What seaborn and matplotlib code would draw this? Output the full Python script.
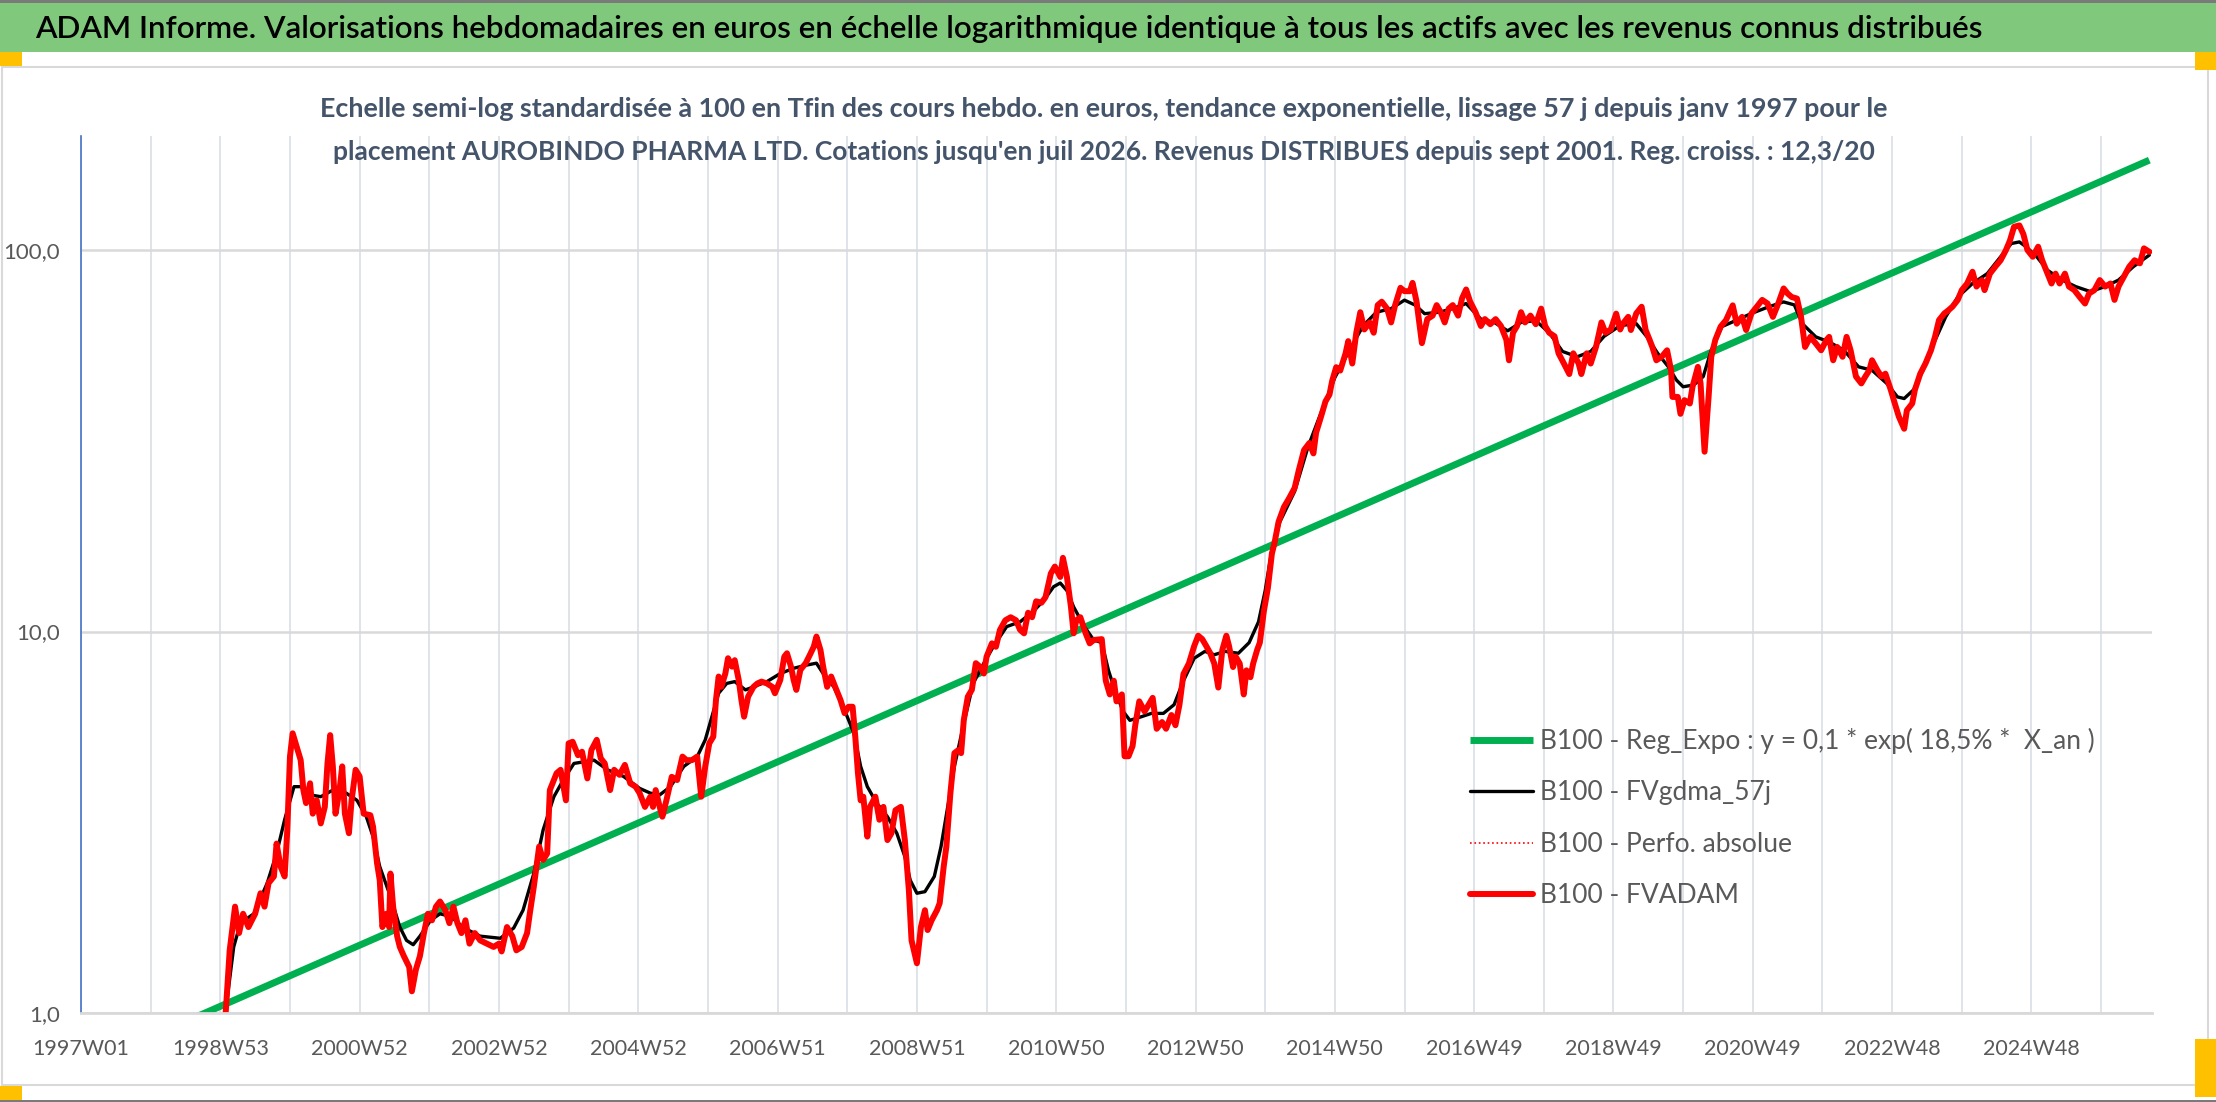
import matplotlib
matplotlib.use("Agg")
import matplotlib.pyplot as plt
from matplotlib.patches import Rectangle
import seaborn as sns

# ---- data (x = week index since 1997W01) ----
week_labels = ["1997W01", "1998W53", "2000W52", "2002W52", "2004W52", "2006W51", "2008W51",
               "2010W50", "2012W50", "2014W50", "2016W49", "2018W49", "2020W49", "2022W48", "2024W48"]
n_weeks = 1547

reg_weeks = [0, 1544]
reg_vals = [0.72, 172.0]

red_weeks = [108, 111, 115, 118, 121, 125, 130, 134, 137, 140, 144, 146, 149, 152, 154, 156, 158, 161, 164, 166,
             168, 171, 173, 176, 179, 182, 184, 186, 188, 190, 193, 195, 197, 200, 202, 205, 208, 211, 216, 218,
             221, 223, 225, 228, 230, 231, 233, 236, 238, 241, 245, 247, 250, 253, 256, 259, 262, 265, 268, 272,
             275, 278, 281, 284, 287, 290, 294, 298, 303, 308, 312, 314, 318, 322, 325, 329, 333, 335, 338, 340,
             342, 345, 348, 350, 353, 355, 358, 362, 364, 367, 371, 374, 378, 381, 385, 388, 391, 395, 398, 402,
             406, 410, 414, 417, 421, 425, 427, 429, 432, 434, 437, 441, 445, 449, 452, 456, 460, 463, 466, 469,
             472, 474, 476, 478, 481, 483, 486, 488, 491, 493, 495, 498, 502, 505, 508, 512, 516, 518, 522, 525,
             527, 530, 532, 534, 537, 541, 544, 547, 549, 552, 554, 557, 560, 563, 567, 570, 573, 576, 578, 580,
             582, 584, 587, 589, 593, 596, 599, 602, 605, 608, 612, 615, 618, 620, 624, 627, 630, 632, 635, 639,
             641, 644, 646, 649, 652, 655, 657, 659, 662, 665, 668, 671, 674, 676, 680, 683, 686, 690, 694, 698,
             701, 704, 707, 710, 713, 717, 720, 724, 727, 731, 733, 736, 739, 741, 743, 746, 750, 753, 756, 762,
             765, 768, 771, 773, 777, 779, 782, 785, 787, 790, 794, 797, 800, 803, 807, 810, 814, 817, 820, 823,
             827, 831, 834, 837, 840, 843, 846, 849, 852, 855, 857, 860, 862, 865, 868, 870, 873, 875, 878, 880,
             883, 886, 889, 891, 894, 898, 902, 906, 909, 913, 917, 920, 922, 926, 929, 932, 934, 937, 940, 944,
             946, 949, 952, 955, 958, 962, 965, 968, 971, 975, 978, 981, 985, 988, 992, 994, 997, 1001, 1005, 1009,
             1012, 1015, 1018, 1021, 1024, 1028, 1031, 1034, 1037, 1041, 1045, 1048, 1052, 1056, 1060, 1064, 1066,
             1069, 1072, 1075, 1078, 1082, 1086, 1090, 1093, 1096, 1100, 1103, 1107, 1111, 1114, 1118, 1120, 1124,
             1127, 1131, 1135, 1138, 1142, 1146, 1149, 1151, 1155, 1157, 1161, 1165, 1168, 1171, 1173, 1176, 1180,
             1184, 1187, 1188, 1192, 1194, 1197, 1201, 1203, 1207, 1209, 1212, 1215, 1217, 1220, 1224, 1228, 1233,
             1236, 1240, 1243, 1247, 1251, 1255, 1259, 1263, 1267, 1271, 1274, 1277, 1281, 1284, 1287, 1291, 1295,
             1299, 1303, 1305, 1308, 1311, 1315, 1318, 1321, 1325, 1329, 1332, 1335, 1337, 1341, 1344, 1347, 1351,
             1354, 1357, 1361, 1363, 1367, 1369, 1373, 1377, 1381, 1384, 1387, 1391, 1394, 1397, 1401, 1404, 1408,
             1412, 1415, 1419, 1421, 1425, 1429, 1433, 1437, 1440, 1443, 1447, 1450, 1453, 1457, 1461, 1464, 1467,
             1471, 1474, 1477, 1481, 1484, 1488, 1492, 1496, 1499, 1503, 1507, 1511, 1515, 1518, 1521, 1525, 1529,
             1533, 1537, 1540, 1544]
red_vals = [1.00, 1.46, 1.90, 1.62, 1.82, 1.68, 1.82, 2.06, 1.90, 2.19, 2.28, 2.78, 2.42, 2.28, 3.02, 4.70, 5.41, 4.99, 4.60, 3.84,
            3.55, 4.00, 3.33, 3.61, 3.14, 3.47, 4.51, 5.35, 4.43, 3.33, 3.84, 4.43, 3.33, 2.96, 3.61, 4.34, 4.17, 3.33, 3.30, 3.08,
            2.47, 2.23, 1.68, 1.82, 1.68, 2.32, 1.90, 1.59, 1.49, 1.41, 1.32, 1.14, 1.30, 1.41, 1.62, 1.82, 1.75, 1.90, 1.96, 1.86,
            1.72, 1.90, 1.72, 1.62, 1.75, 1.52, 1.62, 1.55, 1.52, 1.49, 1.52, 1.45, 1.68, 1.59, 1.46, 1.49, 1.62, 1.82, 2.14, 2.42,
            2.73, 2.52, 2.62, 3.84, 4.08, 4.25, 4.34, 3.61, 5.09, 5.14, 4.74, 4.84, 4.12, 4.89, 5.20, 4.65, 4.51, 3.84, 4.34, 4.21,
            4.47, 4.00, 3.92, 3.77, 3.47, 3.69, 3.47, 3.84, 3.47, 3.27, 3.61, 4.16, 4.08, 4.70, 4.60, 4.60, 4.70, 3.69, 4.43, 5.09,
            5.30, 6.61, 7.62, 7.16, 7.76, 8.51, 8.09, 8.41, 7.46, 6.61, 5.98, 6.75, 7.16, 7.31, 7.39, 7.31, 7.16, 6.89, 7.46, 8.59,
            8.77, 8.09, 7.46, 7.03, 7.93, 8.26, 8.67, 9.12, 9.70, 8.95, 8.09, 7.16, 7.62, 7.16, 6.61, 6.11, 6.35, 6.35, 5.30, 4.25,
            3.61, 3.69, 2.90, 3.47, 3.69, 3.21, 3.47, 2.84, 2.96, 3.40, 3.47, 2.84, 2.10, 1.55, 1.35, 1.68, 1.86, 1.65, 1.75, 1.86,
            1.94, 2.42, 2.73, 3.77, 4.80, 4.89, 4.80, 5.86, 6.75, 7.03, 8.26, 8.09, 7.76, 8.59, 9.31, 9.12, 10.1, 10.7, 10.9, 10.7,
            10.1, 9.89, 11.2, 10.9, 12.0, 11.9, 12.3, 14.2, 14.8, 13.9, 15.6, 13.9, 11.6, 9.89, 10.7, 10.9, 9.89, 9.31, 9.50, 9.55,
            7.43, 6.84, 7.43, 6.56, 6.84, 4.71, 4.71, 5.01, 5.68, 6.56, 6.17, 6.43, 6.70, 5.56, 5.79, 5.56, 6.04, 5.68, 6.43, 7.74,
            8.24, 9.16, 9.75, 9.55, 9.16, 8.77, 8.24, 7.13, 8.95, 9.75, 9.16, 8.07, 8.59, 8.24, 6.84, 7.91, 7.59, 8.24, 8.95, 9.35,
            11.3, 13.0, 16.0, 17.1, 19.4, 21.2, 22.4, 23.8, 26.4, 29.9, 31.2, 29.3, 33.2, 36.9, 40.1, 41.8, 45.4, 49.3, 48.3, 53.6,
            57.7, 50.4, 60.7, 68.7, 61.9, 64.6, 60.7, 71.7, 73.2, 70.2, 64.6, 71.7, 79.6, 78.0, 78.0, 82.0, 73.2, 57.0, 65.9, 67.3,
            71.7, 68.7, 64.6, 70.2, 71.7, 67.3, 74.8, 78.8, 73.2, 68.7, 63.2, 65.9, 63.9, 65.9, 63.2, 58.2, 51.4,
            60.7, 63.2, 68.7, 64.6, 67.3, 63.9, 70.2, 63.2, 60.7, 59.4, 53.6, 50.4, 47.3, 53.6, 50.4, 47.3, 53.6,
            50.4, 55.8, 64.6, 60.7, 61.9, 68.1, 61.9, 64.1, 66.8, 61.7, 68.2, 71.0, 61.7, 58.1, 55.7, 51.4, 52.5,
            54.6, 48.4, 41.2, 41.2, 37.2, 40.4, 39.6, 43.8, 49.4, 44.7, 29.6, 41.2, 52.5, 58.1, 63.0, 65.5, 71.6,
            64.1, 66.8, 61.7, 68.2, 71.0, 74.0, 72.4, 66.8, 72.4, 79.3, 76.9, 75.3, 74.6, 66.8, 55.7, 59.2, 56.9,
            54.6, 58.1, 59.2, 51.4, 55.7, 52.5, 59.2, 54.6, 46.6, 44.7, 46.6, 48.4, 51.4, 48.4, 46.6, 47.4, 43.0,
            39.6, 36.6, 34.0, 38.0, 39.6, 43.0, 47.4, 50.5, 54.6, 59.2, 65.5, 68.2, 69.5, 71.0, 74.0, 78.5, 81.7,
            87.7, 80.2, 83.4, 78.5, 86.7, 90.4, 94.0, 100.0, 106.0, 115.0, 116.0, 110.0, 100.0, 96.0, 102.0, 94.0, 88.5,
            81.7, 86.7, 81.7, 86.7, 80.2, 78.5, 75.3, 72.4, 76.9, 78.5, 83.4, 80.2, 81.7, 74.0, 80.2, 85.1, 90.4,
            94.0, 92.3, 101.0, 98.9]

black_weeks = [109, 114, 119, 129, 139, 146, 152, 159, 164, 171, 179, 188, 198, 206, 213, 218, 223, 231, 238, 243,
               248, 253, 261, 268, 276, 286, 298, 313, 323, 330, 338, 345, 353, 360, 368, 383, 393, 405, 417, 425,
               432, 440, 450, 460, 466, 471, 476, 482, 488, 496, 502, 512, 522, 532, 542, 549, 554, 562, 569, 577,
               582, 587, 594, 602, 609, 615, 619, 624, 630, 637, 642, 647, 652, 659, 666, 674, 681, 691, 701, 711,
               719, 726, 731, 736, 741, 749, 756, 762, 767, 772, 778, 783, 791, 799, 808, 816, 823, 831, 839, 846,
               854, 864, 872, 879, 884, 889, 895, 906, 916, 926, 936, 947, 957, 967, 978, 988, 996, 1003, 1014, 1024,
               1034, 1045, 1055, 1065, 1075, 1086, 1096, 1106, 1117, 1127, 1137, 1147, 1151, 1161, 1169, 1177, 1185,
               1191, 1196, 1204, 1211, 1217, 1225, 1236, 1247, 1260, 1271, 1279, 1285, 1295, 1305, 1316, 1327, 1337,
               1348, 1356, 1361, 1368, 1375, 1383, 1392, 1401, 1412, 1423, 1433, 1441, 1447, 1452, 1460, 1468, 1479,
               1489, 1500, 1511, 1521, 1532, 1544]
black_vals = [1.08, 1.49, 1.72, 1.82, 2.19, 2.62, 3.21, 3.92, 3.92, 3.73, 3.69, 3.84, 3.77, 3.61, 3.27, 2.90, 2.42, 2.02, 1.68, 1.55,
              1.51, 1.59, 1.75, 1.82, 1.79, 1.67, 1.59, 1.57, 1.67, 1.86, 2.32, 3.02, 3.69, 4.08, 4.51, 4.60, 4.34, 4.17, 3.88, 3.77,
              3.73, 3.92, 4.43, 4.70, 5.20, 5.98, 6.89, 7.31, 7.39, 7.03, 7.16, 7.39, 7.76, 8.01, 8.17, 8.26, 7.76, 7.16, 6.35, 5.41,
              4.43, 3.92, 3.55, 3.27, 2.96, 2.57, 2.23, 2.06, 2.08, 2.28, 2.73, 3.47, 4.43, 5.74, 7.31, 8.26, 9.12, 10.3, 10.6, 11.3,
              12.1, 13.1, 13.4, 12.8, 11.6, 10.3, 9.50, 9.35, 7.91, 6.98, 6.17, 5.85, 5.97, 6.10, 6.10, 6.43, 7.43, 8.51, 8.87, 8.69,
              8.87, 8.77, 9.35, 10.6, 12.8, 16.4, 19.4, 23.3, 30.5, 37.7, 46.3, 54.7, 63.2, 68.7, 70.2, 73.9, 71.7, 68.1, 68.7, 70.2,
              72.4, 65.9, 64.6, 61.4, 64.6, 65.3, 60.7, 54.2, 52.5, 54.2, 59.4, 62.7, 63.5, 64.1, 59.2, 53.6, 49.4,
              45.6, 43.8, 44.3, 46.6, 54.6, 63.0, 65.5, 68.2, 71.0, 73.1, 71.8, 64.1, 59.2, 57.4, 54.6, 49.4, 48.4,
              44.7, 41.2, 40.8, 43.0, 48.4, 56.9, 66.8, 75.3, 81.7, 86.7, 96.0, 104.0, 105.0, 102.0, 96.0, 88.5, 83.4,
              80.2, 77.8, 80.2, 83.4, 90.4, 97.0]

title = ("ADAM Informe. Valorisations hebdomadaires en euros en échelle logarithmique identique "
         "à tous les actifs avec les revenus connus distribués")
subtitle1 = ("Echelle semi-log standardisée à 100 en Tfin des cours hebdo. en euros, tendance exponentielle, "
             "lissage 57 j depuis janv 1997 pour le")
subtitle2 = ("placement AUROBINDO PHARMA LTD. Cotations jusqu'en juil 2026. Revenus DISTRIBUES depuis "
             "sept 2001. Reg. croiss. : 12,3/20")
legend_labels = ["B100 - Reg_Expo : y = 0,1 * exp( 18,5% *  X_an )", "B100 - FVgdma_57j",
                 "B100 - Perfo. absolue", "B100 - FVADAM"]
y_ticks = [1, 10, 100]
y_tick_labels = ["1,0", "10,0", "100,0"]

# ---- figure ----
sns.set_style("white")
plt.rcParams['font.family'] = ['Lato', 'DejaVu Sans']

W, H = 2216, 1102
fig = plt.figure(figsize=(W / 100, H / 100), dpi=100)
ax = fig.add_axes([81 / W, 1 - 1013 / H, (2152 - 81) / W, (1013 - 136) / H])

sns.lineplot(x=reg_weeks, y=reg_vals, ax=ax, color="#00B050", linewidth=5.0, label=legend_labels[0],
             estimator=None, sort=False, solid_capstyle="butt")
sns.lineplot(x=black_weeks, y=black_vals, ax=ax, color="black", linewidth=2.4, label=legend_labels[1],
             estimator=None, sort=False)
sns.lineplot(x=red_weeks, y=red_vals, ax=ax, color="#FF0000", linewidth=1.2, linestyle=":",
             label=legend_labels[2], estimator=None, sort=False)
sns.lineplot(x=red_weeks, y=red_vals, ax=ax, color="#FF0000", linewidth=4.3, label=legend_labels[3],
             estimator=None, sort=False)

ax.set_yscale("log")
ax.set_ylim(1, 199)
ax.set_xlim(0, n_weeks - 1)

xt = list(range(0, n_weeks, 52))
ax.set_xticks(xt)
ax.set_xticklabels([week_labels[i // 2] if i % 2 == 0 and i // 2 < len(week_labels) else "" for i in range(len(xt))])
ax.set_yticks(y_ticks)
ax.set_yticklabels(y_tick_labels)
ax.yaxis.set_minor_locator(matplotlib.ticker.NullLocator())

ax.grid(True, axis="x", color="#DCE1E8", linewidth=1.3)
ax.grid(True, axis="y", color="#D9D9D9", linewidth=1.8)
ax.set_axisbelow(True)

ax.tick_params(axis="x", length=6, width=1.2, color="#D9D9D9", pad=13, labelsize=15.5, labelcolor="#595959")
ax.tick_params(axis="y", length=0, pad=15, labelsize=16, labelcolor="#595959")

for s in ["top", "right"]:
    ax.spines[s].set_visible(False)
ax.spines["left"].set_color("#4472C4")
ax.spines["left"].set_linewidth(1.2)
ax.spines["bottom"].set_color("#D9D9D9")
ax.spines["bottom"].set_linewidth(2.0)
ax.set_xlabel("")
ax.set_ylabel("")

leg = ax.legend(loc="upper left", bbox_to_anchor=(1470 / W, 1 - 728 / H), bbox_transform=fig.transFigure,
                frameon=False, fontsize=19, borderpad=0, borderaxespad=0, handlelength=2.4,
                handletextpad=0.25, labelspacing=1.0)
for t in leg.get_texts():
    t.set_color("#595959")

# ---- frame decorations ----
fig.patches.append(Rectangle((2 / W, 1 - 1085 / H), 2206 / W, (1085 - 67) / H, transform=fig.transFigure,
                             facecolor="none", edgecolor="#D9D9D9", linewidth=1.5, zorder=0))
fig.patches.append(Rectangle((0, 1 - 52 / H), 1, 52 / H, transform=fig.transFigure,
                             facecolor="#80C87C", edgecolor="none", zorder=1))
fig.patches.append(Rectangle((0, 1 - 3 / H), 1, 3 / H, transform=fig.transFigure,
                             facecolor="#7A7A7A", edgecolor="none", zorder=2))
fig.patches.append(Rectangle((0, 0), 1, 2 / H, transform=fig.transFigure,
                             facecolor="#7A7A7A", edgecolor="none", zorder=2))
for (x0, y0, w, h) in [(0, 52, 22, 14), (0, 1086, 22, 14), (2195, 52, 21, 18), (2195, 1039, 21, 58)]:
    fig.patches.append(Rectangle((x0 / W, 1 - (y0 + h) / H), w / W, h / H, transform=fig.transFigure,
                                 facecolor="#FFC000", edgecolor="none", zorder=3))

fig.text(35 / W, 1 - 29 / H, title, ha="left", va="center", fontsize=22.6, color="black",
         fontweight="semibold", zorder=5)
fig.text(1104 / W, 1 - 109 / H, subtitle1, ha="center", va="center", fontsize=19.4, fontweight="bold",
         color="#44546A")
fig.text(1104 / W, 1 - 152 / H, subtitle2, ha="center", va="center", fontsize=19.0, fontweight="bold",
         color="#44546A")

fig.savefig("out.png", dpi=100, facecolor="white")
